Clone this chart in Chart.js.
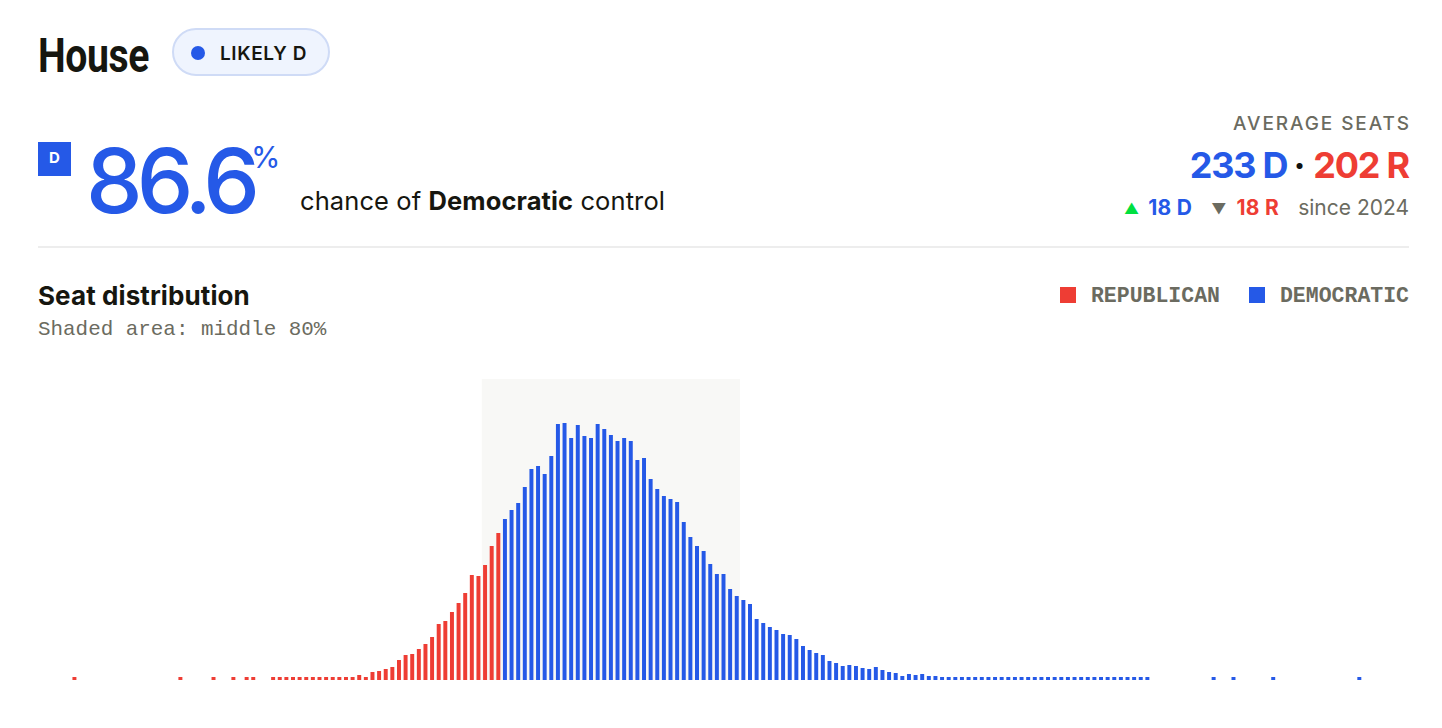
<!DOCTYPE html>
<html>
<head>
<meta charset="utf-8">
<title>House seat distribution</title>
<script src="https://cdn.jsdelivr.net/npm/chart.js@4"></script>
<style>
  html, body { margin: 0; padding: 0; background: #fff; overflow: hidden; }
  body { width: 1442px; height: 728px; position: relative; font-family: Inter, "Noto Sans", sans-serif; color: #16160f; }
  .abs { position: absolute; line-height: 1; white-space: nowrap; }
  .title { left: 38px; top: 27px; font: bold 49px Roboto, sans-serif; letter-spacing: -0.5px; transform: scaleX(0.8); transform-origin: 0 0; }
  .pill { left: 172px; top: 28px; width: 154px; height: 44px; border: 2px solid #cfdbf6; background: #eff4fe; border-radius: 24px; }
  .pill .dot { position: absolute; left: 17px; top: 16px; width: 14px; height: 14px; border-radius: 50%; background: #2559e7; }
  .pill .txt { position: absolute; left: 46px; top: 14px; font: 600 19px Inter, sans-serif; letter-spacing: 0.6px; line-height: 1; }
  .dbox { left: 38px; top: 142px; width: 33px; height: 34px; background: #2559e7; color: #fff; font: bold 15px Inter, sans-serif; text-align: center; line-height: 32px; }
  .big { left: 86px; top: 126px; font: 500 90px Inter, sans-serif; color: #2559e7; letter-spacing: -6px; }
  .pct { left: 251px; top: 139px; font: 400 30px Inter, sans-serif; color: #2559e7; }
  .chance { left: 300px; top: 185px; font: 400 25.5px Inter, sans-serif; letter-spacing: 0.1px; }
  .rule { left: 38px; top: 246px; width: 1371px; height: 2px; background: #ededed; }
  .avg { right: 33px; top: 112px; font: 500 19px Inter, sans-serif; color: #6b6b60; letter-spacing: 1.9px; margin-right: -1.9px; }
  .seats { right: 33px; top: 143px; font: bold 36px Inter, sans-serif; letter-spacing: -1.2px; }
  .seats .sep { color: #111; margin: 0 9px 0 6px; }
  .change { right: 33px; top: 195px; font: 400 21px Inter, sans-serif; color: #6b6b60; }
  .change b { font-weight: 700; letter-spacing: 0.3px; }
  .change .tri { font-size: 15px; vertical-align: 1px; }
  .blue { color: #2559e7; }
  .red { color: #ee3d34; }
  .sub { left: 38px; top: 280px; font: bold 26px Inter, sans-serif; letter-spacing: 0.1px; }
  .note { left: 38px; top: 318px; font: 400 20.9px "Liberation Mono", "DejaVu Sans Mono", monospace; color: #6b6b60; }
  .legend { right: 33px; top: 284px; font: bold 21.5px "Liberation Mono", "DejaVu Sans Mono", monospace; color: #6b6b60; }
  .legend .sw { display: inline-block; width: 16px; height: 16px; vertical-align: -1px; margin-right: 15px; }
  #wrap { position: absolute; left: 38px; top: 379px; width: 1371px; height: 301px; }
</style>
</head>
<body>
<div class="abs title">House</div>
<div class="abs pill"><span class="dot"></span><span class="txt">LIKELY D</span></div>
<div class="abs dbox">D</div>
<div class="abs big">86.6</div>
<div class="abs pct">%</div>
<div class="abs chance">chance of <b>Democratic</b> control</div>
<div class="abs avg">AVERAGE SEATS</div>
<div class="abs seats"><span class="blue">233 D</span><span class="sep">&middot;</span><span class="red">202 R</span></div>
<div class="abs change"><span class="tri" style="color:#00e040;margin-right:9px">&#9650;</span><b class="blue">18 D</b><span class="tri" style="color:#6b6b60;margin:0 10px 0 19px">&#9660;</span><b class="red">18 R</b><span style="margin-left:19px">since 2024</span></div>
<div class="abs rule"></div>
<div class="abs sub">Seat distribution</div>
<div class="abs note">Shaded area: middle 80%</div>
<div class="abs legend"><span class="sw" style="background:#ee3d34"></span>REPUBLICAN<span style="display:inline-block;width:29px"></span><span class="sw" style="background:#2559e7"></span>DEMOCRATIC</div>
<div id="wrap"><canvas id="chart"></canvas></div>
<script>
// Democratic seat counts (x categories)
const seats = [
  148, 149, 150, 151, 152, 153, 154, 155, 156, 157, 158, 159, 160, 161, 162, 163, 164, 165, 166, 167,
  168, 169, 170, 171, 172, 173, 174, 175, 176, 177, 178, 179, 180, 181, 182, 183, 184, 185, 186, 187,
  188, 189, 190, 191, 192, 193, 194, 195, 196, 197, 198, 199, 200, 201, 202, 203, 204, 205, 206, 207,
  208, 209, 210, 211, 212, 213, 214, 215, 216, 217, 218, 219, 220, 221, 222, 223, 224, 225, 226, 227,
  228, 229, 230, 231, 232, 233, 234, 235, 236, 237, 238, 239, 240, 241, 242, 243, 244, 245, 246, 247,
  248, 249, 250, 251, 252, 253, 254, 255, 256, 257, 258, 259, 260, 261, 262, 263, 264, 265, 266, 267,
  268, 269, 270, 271, 272, 273, 274, 275, 276, 277, 278, 279, 280, 281, 282, 283, 284, 285, 286, 287,
  288, 289, 290, 291, 292, 293, 294, 295, 296, 297, 298, 299, 300, 301, 302, 303, 304, 305, 306, 307,
  308, 309, 310, 311, 312, 313, 314, 315, 316, 317, 318, 319, 320, 321, 322, 323, 324, 325, 326, 327,
  328, 329, 330, 331, 332, 333, 334, 335, 336, 337, 338, 339, 340, 341, 342, 343, 344, 345, 346, 347,
  348, 349, 350, 351, 352, 353, 354
];

// probability (%) of each seat count
const probs = [
  0, 0, 0, 0, 0, 0.03, 0, 0, 0, 0, 0, 0, 0, 0, 0, 0, 0, 0, 0, 0,
  0, 0.03, 0, 0, 0, 0, 0.03, 0, 0, 0.03, 0, 0.03, 0.03, 0, 0, 0.03, 0.03, 0.03, 0.03, 0.03,
  0.03, 0.03, 0.03, 0.03, 0.03, 0.03, 0.03, 0.03, 0.05, 0.03, 0.08, 0.09, 0.11, 0.13, 0.20, 0.25, 0.26, 0.31, 0.36, 0.43,
  0.56, 0.59, 0.68, 0.77, 0.87, 1.05, 1.04, 1.15, 1.34, 1.47, 1.61, 1.70, 1.77, 1.93, 2.11, 2.14, 2.06, 2.24, 2.56, 2.57,
  2.42, 2.55, 2.44, 2.42, 2.56, 2.51, 2.45, 2.39, 2.42, 2.39, 2.20, 2.22, 2.01, 1.91, 1.84, 1.81, 1.78, 1.58, 1.43, 1.34,
  1.29, 1.16, 1.06, 1.06, 0.91, 0.84, 0.80, 0.76, 0.61, 0.57, 0.53, 0.50, 0.46, 0.45, 0.41, 0.34, 0.30, 0.27, 0.25, 0.19,
  0.17, 0.14, 0.15, 0.14, 0.12, 0.11, 0.13, 0.10, 0.08, 0.07, 0.04, 0.06, 0.05, 0.06, 0.04, 0.04, 0.03, 0.03, 0.03, 0.03,
  0.03, 0.03, 0.03, 0.03, 0.03, 0.03, 0.03, 0.03, 0.03, 0.03, 0.03, 0.03, 0.03, 0.03, 0.03, 0.03, 0.03, 0.03, 0.03, 0.03,
  0.03, 0.03, 0.03, 0.03, 0.03, 0.03, 0.03, 0.03, 0, 0, 0, 0, 0, 0, 0, 0, 0, 0.03, 0, 0,
  0.03, 0, 0, 0, 0, 0, 0.03, 0, 0, 0, 0, 0, 0, 0, 0, 0, 0, 0, 0, 0.03,
  0, 0, 0, 0, 0, 0, 0
];

const majority = 218;         // seats needed for control
const middle80 = [215, 253];  // shaded band
const yMax = 3.01;

const RED = "#ee3d34";
const BLUE = "#2559e7";

// light grey band behind the middle 80%
const shadePlugin = {
  id: "shade",
  beforeDatasetsDraw(chart) {
    const {ctx, scales: {x, y}} = chart;
    const i0 = seats.indexOf(middle80[0]);
    const i1 = seats.indexOf(middle80[1]);
    const left = (x.getPixelForValue(i0 - 1) + x.getPixelForValue(i0)) / 2;
    const right = (x.getPixelForValue(i1) + x.getPixelForValue(i1 + 1)) / 2;
    const top = y.getPixelForValue(yMax);
    const bottom = y.getPixelForValue(0);
    ctx.save();
    ctx.fillStyle = "#f8f8f6";
    ctx.fillRect(left, top, right - left, bottom - top);
    ctx.restore();
  }
};

new Chart(document.getElementById("chart").getContext("2d"), {
  type: "bar",
  data: {
    labels: seats,
    datasets: [{
      label: "Seats",
      data: probs,
      backgroundColor: seats.map(s => s >= majority ? BLUE : RED),
      categoryPercentage: 1,
      barPercentage: 0.6,
      borderWidth: 0
    }]
  },
  options: {
    responsive: true,
    maintainAspectRatio: false,
    animation: false,
    layout: {padding: 0},
    plugins: {legend: {display: false}, tooltip: {enabled: false}},
    scales: {
      x: {display: false, offset: true},
      y: {display: false, min: 0, max: yMax}
    }
  },
  plugins: [shadePlugin]
});
</script>
</body>
</html>
